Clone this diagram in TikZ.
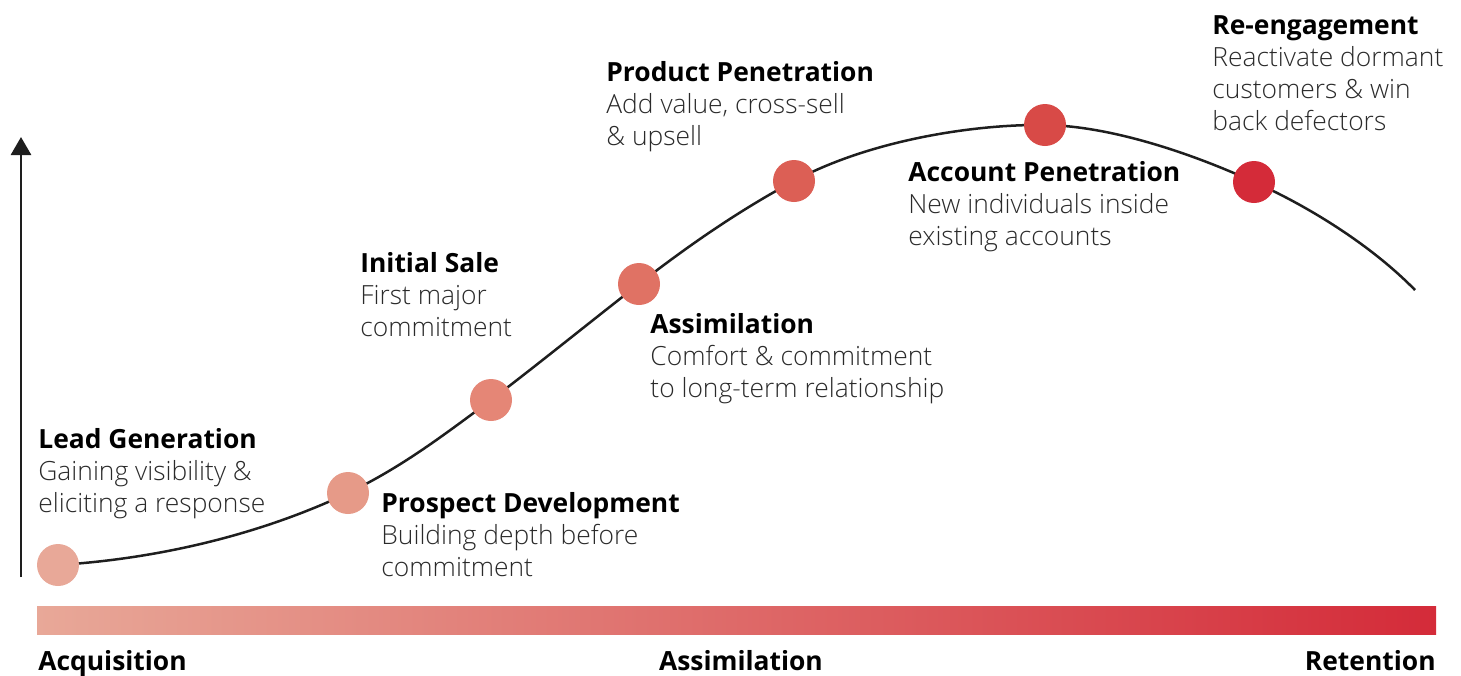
\documentclass[tikz,border=0pt]{standalone}
\usepackage{fontspec}
\setmainfont{Open Sans}[UprightFont={* Light},BoldFont={* Bold}]
\usetikzlibrary{arrows.meta}
\definecolor{ink}{HTML}{1E1E1E}
\definecolor{txt}{HTML}{2A2A2A}
\definecolor{cA}{HTML}{E8A898}
\definecolor{cB}{HTML}{E69A88}
\definecolor{cC}{HTML}{E58676}
\definecolor{cD}{HTML}{E07264}
\definecolor{cE}{HTML}{DC5F55}
\definecolor{cF}{HTML}{D84A47}
\definecolor{cG}{HTML}{D42B39}
\definecolor{cMid}{HTML}{E07264}
\begin{document}
\begin{tikzpicture}[x=0.5pt,y=-0.5pt,
  dot/.style={circle,inner sep=0pt,minimum size=21pt,fill=#1},
  stage/.style={anchor=base west,align=left,inner sep=0pt,text=txt,
    font=\fontsize{13.2}{16}\selectfont},
  phase/.style={anchor=base,inner sep=0pt,text=black,
    font=\fontsize{13.2}{16}\selectfont\bfseries},
  curve/.style={draw=ink,line width=1.25pt}]
\useasboundingbox (0,0) rectangle (1461,675);

% vertical axis
\coordinate (axB) at (21,577);
\coordinate (axT) at (21,137);
\draw[ink,line width=1.4pt,-{Triangle[width=10pt,length=9pt]}] (axB) -- (axT);

% marker positions along the curve
\coordinate (p1) at (58,565);
\coordinate (p2) at (348,493);
\coordinate (p3) at (491,400);
\coordinate (p4) at (639,284);
\coordinate (p5) at (794,181);
\coordinate (p6) at (1045,125);
\coordinate (p7) at (1254,182);
\coordinate (pEnd) at (1415,290);

% life-cycle curve
\draw[curve] (p1) .. controls (170,558) and (270,530) .. (p2)
  .. controls (400,468) and (440,438) .. (p3)
  .. controls (541,362) and (590,322) .. (p4)
  .. controls (689,245) and (740,210) .. (p5)
  .. controls (870,140) and (975,124) .. (p6)
  .. controls (1115,126) and (1200,157) .. (p7)
  .. controls (1310,207) and (1372,246) .. (pEnd);

% stage markers
\node[dot=cA] (d1) at (p1) {};
\node[dot=cB] (d2) at (p2) {};
\node[dot=cC] (d3) at (p3) {};
\node[dot=cD] (d4) at (p4) {};
\node[dot=cE] (d5) at (p5) {};
\node[dot=cF] (d6) at (p6) {};
\node[dot=cG] (d7) at (p7) {};

% stage descriptions (anchored at the baseline of the last line)
\node[stage] (t1) at (38,512) {\textbf{\color{black}Lead Generation}\\Gaining visibility \&\\eliciting a response};
\node[stage] (t2) at (381,576) {\textbf{\color{black}Prospect Development}\\Building depth before\\commitment};
\node[stage] (t3) at (360,336) {\textbf{\color{black}Initial Sale}\\First major\\commitment};
\node[stage] (t4) at (650,397) {\textbf{\color{black}Assimilation}\\Comfort \& commitment\\to long-term relationship};
\node[stage] (t5) at (606,145) {\textbf{\color{black}Product Penetration}\\Add value, cross-sell\\\& upsell};
\node[stage] (t6) at (908,245) {\textbf{\color{black}Account Penetration}\\New individuals inside\\existing accounts};
\node[stage] (t7) at (1212,130) {\textbf{\color{black}Re-engagement}\\Reactivate dormant\\customers \& win\\back defectors};

% phase bar
\shade[left color=cA,middle color=cMid,right color=cG] (37,606) rectangle (1436,634);
\node[phase,anchor=base west] (q1) at (38,670) {Acquisition};
\node[phase] (q2) at (741,670) {Assimilation};
\node[phase,anchor=base east] (q3) at (1436,670) {Retention};
\end{tikzpicture}
\end{document}
